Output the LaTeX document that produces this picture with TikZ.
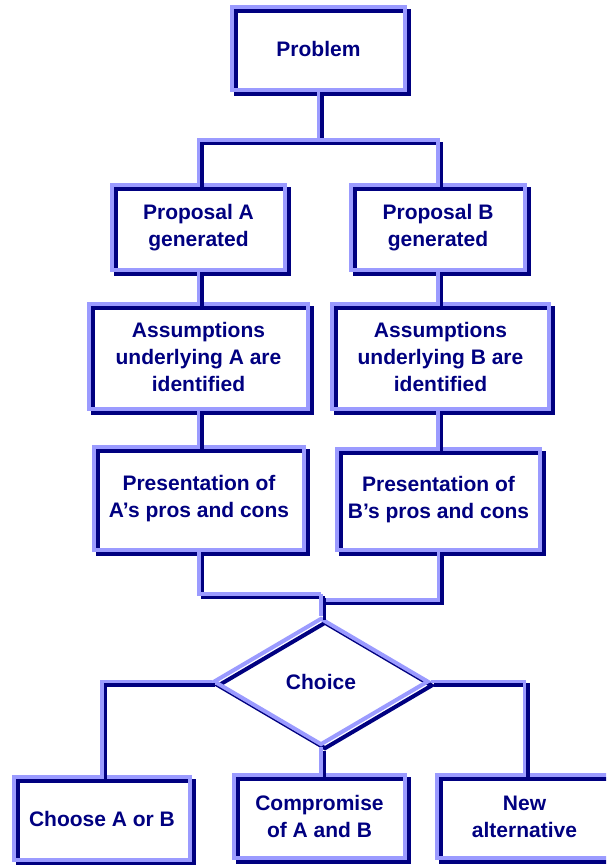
\documentclass[tikz,border=0pt]{standalone}
\usepackage{fontspec}
\setmainfont{Liberation Sans}
\usetikzlibrary{shapes.geometric}
\definecolor{fnavy}{RGB}{0,0,128}
\definecolor{flav}{RGB}{155,155,255}
\tikzset{
  block/.style      = {draw=flav, line width=4pt, rectangle, inner sep=0pt,
                       text=fnavy, align=center,
                       font=\fontsize{21}{27}\selectfont\bfseries,
                       preaction={draw=fnavy, line width=4pt,
                         transform canvas={xshift=4pt,yshift=-4pt}}},
  choicenode/.style = {block, diamond, minimum width=215pt, minimum height=127pt},
  wire/.style       = {draw=flav, line width=3.5pt,
                       preaction={draw=fnavy, line width=3.5pt,
                         transform canvas={xshift=3.5pt,yshift=-3.5pt}}},
}

\begin{document}
\begin{tikzpicture}[x=1pt,y=-1pt]
\useasboundingbox (0,0) rectangle (606,865);
\clip (0,0) rectangle (606,865);
% boxes
\node[block, minimum width=173pt, minimum height=83pt]  (prob)   at (318.5,48.5)  {Problem};
\node[block, minimum width=173pt, minimum height=85pt]  (propA)  at (198.5,227.5) {Proposal A\\generated};
\node[block, minimum width=174pt, minimum height=85pt]  (propB)  at (438,227.5)   {Proposal B\\generated};
\node[block, minimum width=219pt, minimum height=105pt] (assA)   at (198.5,356.5) {Assumptions\\underlying A are\\identified};
\node[block, minimum width=217pt, minimum height=105pt] (assB)   at (440.5,356.5) {Assumptions\\underlying B are\\identified};
\node[block, minimum width=210pt, minimum height=103pt] (presA)  at (199,498.5)   {Presentation of\\A's pros and cons};
\node[block, minimum width=203pt, minimum height=101pt] (presB)  at (438.5,499.5) {Presentation of\\B's pros and cons};
\node[choicenode]                                       (choice) at (321,681.5)   {Choice};
\node[block, minimum width=176pt, minimum height=83pt]  (choose) at (102,818.5)   {Choose A or B};
\node[block, minimum width=171pt, minimum height=83pt]  (comp)   at (319.5,816.5) {Compromise\\of A and B};
\node[block, minimum width=175pt, minimum height=83pt]  (newalt) at (524.5,816.5) {New\\alternative};
% connectors
\coordinate (split) at (318.5,140);
\coordinate (joinA) at (321,594);
\coordinate (joinB) at (321,600);
\draw[wire] (prob.south) -- (split);
\draw[wire] (split) -| (propA);
\draw[wire] (split) -| (propB);
\draw[wire] (propA.south) -- (propA.south |- assA.north);
\draw[wire] (assA.south) -- (assA.south |- presA.north);
\draw[wire] (propB.south) -- (propB.south |- assB.north);
\draw[wire] (assB.south -| propB) -- (propB |- presB.north);
\draw[wire] (presA) |- (joinA);
\draw[wire] (presB) |- (joinB);
\draw[wire] (joinA) -- (choice.north);
\draw[wire] (choice.west) -| (choose);
\draw[wire] (choice.east) -| (newalt);
\draw[wire] (choice.south) -- (choice.south |- comp.north);
\end{tikzpicture}
\end{document}
